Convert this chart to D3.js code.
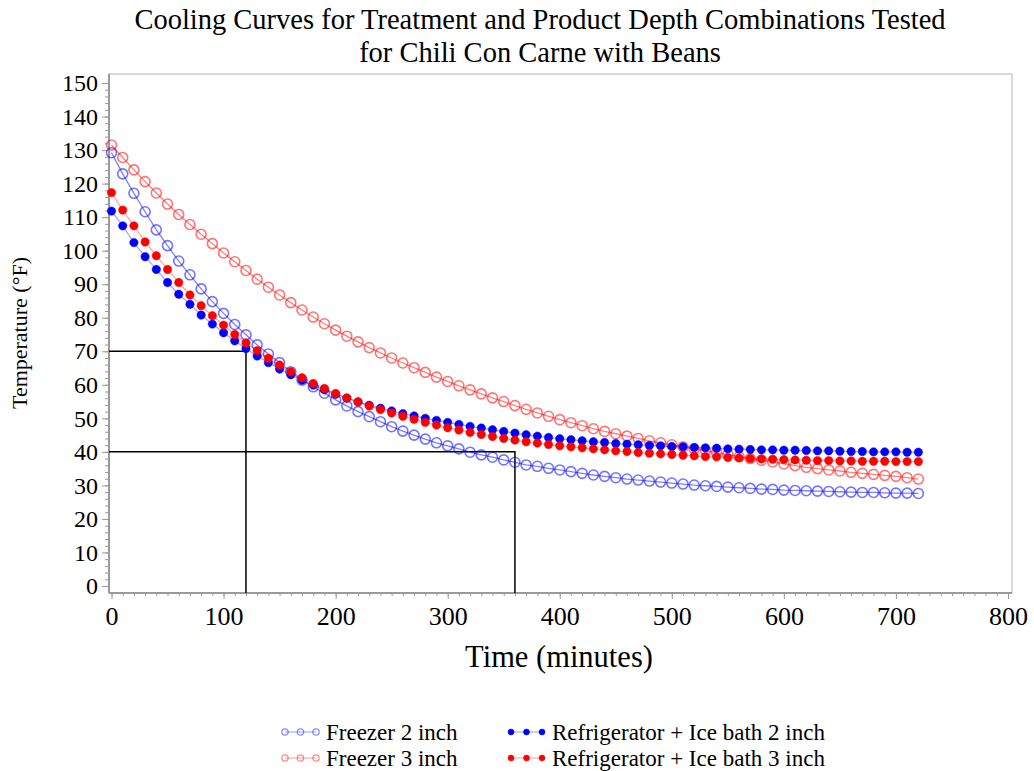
<!DOCTYPE html>
<html>
<head>
<meta charset="utf-8">
<script src="https://cdn.jsdelivr.net/npm/d3@7"></script>
<style>
  body { margin: 0; background: #fff; }
  text { font-family: "Liberation Serif", "Times New Roman", serif; fill: #000; }
</style>
</head>
<body>
<script>
// sampling times (minutes)
var times = [0,10,20,30,40,50,60,70,80,90,100,110,120,130,140,150,160,170,180,190,
  200,210,220,230,240,250,260,270,280,290,300,310,320,330,340,350,360,370,380,390,
  400,410,420,430,440,450,460,470,480,490,500,510,520,530,540,550,560,570,580,590,
  600,610,620,630,640,650,660,670,680,690,700,710,720];

// temperatures (°F)
var freezer2 = [129.2,122.9,117.1,111.6,106.2,101.5,96.9,92.8,88.6,84.8,81.3,78.0,74.9,71.9,69.2,66.6,63.9,61.4,59.4,57.5,
  55.5,53.7,52.0,50.5,49.0,47.5,46.2,45.0,43.8,42.7,41.8,40.9,39.9,39.1,38.4,37.6,36.9,36.1,35.7,35.1,
  34.6,34.1,33.6,33.1,32.7,32.3,31.9,31.6,31.3,31.0,30.7,30.4,30.1,29.9,29.7,29.5,29.3,29.1,28.9,28.8,
  28.6,28.5,28.4,28.3,28.2,28.1,28.0,27.9,27.9,27.8,27.7,27.7,27.6];
var freezer3 = [131.5,127.8,124.1,120.6,117.2,113.9,110.8,107.8,104.9,102.1,99.3,96.7,94.1,91.5,89.1,86.8,84.5,82.3,80.2,78.2,
  76.3,74.5,72.8,71.1,69.5,68.0,66.5,65.1,63.7,62.3,61.0,59.7,58.5,57.3,56.1,55.0,53.8,52.7,51.6,50.6,
  49.6,48.7,47.8,46.9,46.1,45.4,44.7,44.0,43.3,42.7,42.1,41.5,40.9,40.3,39.8,39.2,38.6,38.0,37.5,37.0,
  36.4,35.9,35.4,35.0,34.6,34.3,33.9,33.6,33.3,33.0,32.7,32.3,31.9];
var fridge2 = [111.8,107.4,102.4,98.2,94.4,90.5,87.0,84.0,80.8,78.1,75.5,73.1,70.8,68.6,66.6,64.7,63.0,61.4,59.9,58.5,
  57.2,56.0,54.9,53.9,53.0,52.2,51.4,50.7,50.0,49.4,48.8,48.2,47.6,47.1,46.6,46.1,45.6,45.1,44.7,44.3,
  43.9,43.6,43.3,43.0,42.8,42.5,42.3,42.1,41.9,41.8,41.6,41.5,41.3,41.2,41.1,40.9,40.8,40.7,40.6,40.6,
  40.5,40.5,40.4,40.3,40.3,40.2,40.1,40.1,40.0,40.0,40.0,39.9,39.9];
var fridge3 = [117.3,112.1,107.4,102.6,98.5,94.4,90.5,86.8,83.6,80.6,77.8,75.0,72.5,70.2,67.9,65.9,63.9,62.1,60.4,58.9,
  57.4,56.1,54.9,53.7,52.6,51.6,50.6,49.7,48.8,48.0,47.2,46.5,45.8,45.2,44.6,44.0,43.5,43.0,42.6,42.2,
  41.8,41.5,41.2,40.9,40.6,40.3,40.1,39.8,39.6,39.4,39.2,39.0,38.8,38.6,38.5,38.3,38.2,38.0,37.9,37.8,
  37.7,37.6,37.5,37.4,37.4,37.3,37.3,37.2,37.2,37.2,37.1,37.1,37.1];

var seriesNames = ["Freezer 2 inch", "Freezer 3 inch", "Refrigerator + Ice bath 2 inch", "Refrigerator + Ice bath 3 inch"];

// critical cooling points: [time, temperature]
var checkpoints = [[120, 70], [360, 40]];

var xTicks = [0,100,200,300,400,500,600,700,800];
var yTicks = [0,10,20,30,40,50,60,70,80,90,100,110,120,130,140,150];

var width = 1034, height = 771;
var box = {left: 109, top: 74, right: 1012, bottom: 593};

var svg = d3.select("body").append("svg")
    .attr("width", width)
    .attr("height", height);

var x = d3.scaleLinear().domain([0, 800]).range([111.5, 1008]);
var y = d3.scaleLinear().domain([0, 150]).range([586, 83]);

// title
svg.append("text")
    .attr("x", 540).attr("y", 29)
    .attr("text-anchor", "middle")
    .style("font-size", "28.5px")
    .text("Cooling Curves for Treatment and Product Depth Combinations Tested");
svg.append("text")
    .attr("x", 540).attr("y", 62)
    .attr("text-anchor", "middle")
    .style("font-size", "28.5px")
    .text("for Chili Con Carne with Beans");

// frame
svg.append("rect")
    .attr("x", box.left).attr("y", box.top)
    .attr("width", box.right - box.left).attr("height", box.bottom - box.top)
    .attr("fill", "none")
    .attr("stroke", "#b4b4b4")
    .attr("stroke-width", 1);

// axes (major + minor ticks)
function styleAxis(g) {
    g.select(".domain").remove();
    g.selectAll(".tick line").attr("stroke", "#9a9a9a");
}

svg.append("g")
    .attr("transform", "translate(" + box.left + ",0)")
    .call(d3.axisLeft(y).tickValues(d3.range(0, 152, 2)).tickSize(4).tickFormat(""))
    .call(styleAxis);
svg.append("g")
    .attr("transform", "translate(" + box.left + ",0)")
    .call(d3.axisLeft(y).tickValues(yTicks).tickSize(7).tickPadding(4))
    .call(styleAxis)
    .selectAll("text")
    .style("font-size", "24px");

svg.append("g")
    .attr("transform", "translate(0," + box.bottom + ")")
    .call(d3.axisBottom(x).tickValues(d3.range(0, 801, 10)).tickSize(3).tickFormat(""))
    .call(styleAxis);
svg.append("g")
    .attr("transform", "translate(0," + box.bottom + ")")
    .call(d3.axisBottom(x).tickValues(xTicks).tickSize(6).tickPadding(8))
    .call(styleAxis)
    .selectAll("text")
    .style("font-size", "26px");

// axis lines drawn a bit heavier
svg.append("line")
    .attr("x1", box.left).attr("x2", box.left)
    .attr("y1", box.top).attr("y2", box.bottom)
    .attr("stroke", "#9a9a9a").attr("stroke-width", 2);
svg.append("line")
    .attr("x1", box.left).attr("x2", box.right)
    .attr("y1", box.bottom).attr("y2", box.bottom)
    .attr("stroke", "#9a9a9a").attr("stroke-width", 2);

// axis labels
svg.append("text")
    .attr("transform", "translate(27,333) rotate(-90)")
    .attr("text-anchor", "middle")
    .style("font-size", "22px")
    .text("Temperature (°F)");
svg.append("text")
    .attr("x", 559).attr("y", 667)
    .attr("text-anchor", "middle")
    .style("font-size", "30.5px")
    .text("Time (minutes)");

// reference lines
svg.append("g").selectAll("path")
    .data(checkpoints)
    .enter().append("path")
    .attr("d", function (d) {
        return "M" + box.left + "," + y(d[1]) + "H" + x(d[0]) + "V" + box.bottom;
    })
    .attr("fill", "none")
    .attr("stroke", "#000")
    .attr("stroke-width", 1.5);

// series
var series = [
    {name: seriesNames[0], values: freezer2, color: "#0000ff", open: true},
    {name: seriesNames[1], values: freezer3, color: "#ff0000", open: true},
    {name: seriesNames[2], values: fridge2, color: "#0000ff", open: false},
    {name: seriesNames[3], values: fridge3, color: "#ff0000", open: false}
];

var line = d3.line()
    .x(function (d, i) { return x(times[i]); })
    .y(function (d) { return y(d); });

var plot = svg.append("g");
series.forEach(function (s) {
    var g = plot.append("g");
    g.append("path")
        .attr("d", line(s.values))
        .attr("fill", "none")
        .attr("stroke", s.color)
        .attr("stroke-opacity", s.open ? 0.5 : 0.35)
        .attr("stroke-width", 1.3);
    g.selectAll("circle")
        .data(s.values)
        .enter().append("circle")
        .attr("cx", function (d, i) { return x(times[i]); })
        .attr("cy", function (d) { return y(d); })
        .attr("r", s.open ? 5 : 4.2)
        .attr("fill", s.open ? "none" : s.color)
        .attr("stroke", s.color)
        .attr("stroke-opacity", s.open ? 0.55 : 1)
        .attr("stroke-width", s.open ? 1.6 : 0.5);
});

// legend
var legendPos = [[285, 732], [285, 758], [511, 732], [511, 758]];
var legend = svg.append("g").selectAll("g")
    .data(series)
    .enter().append("g")
    .attr("transform", function (d, i) { return "translate(" + legendPos[i][0] + "," + legendPos[i][1] + ")"; });

legend.append("line")
    .attr("x1", 0).attr("x2", 31)
    .attr("stroke", function (d) { return d.color; })
    .attr("stroke-opacity", 0.4)
    .attr("stroke-width", 1);
legend.each(function (d) {
    d3.select(this).selectAll("circle")
        .data([0, 15.5, 31])
        .enter().append("circle")
        .attr("cx", function (c) { return c; })
        .attr("r", d.open ? 3.2 : 3)
        .attr("fill", d.open ? "none" : d.color)
        .attr("stroke", d.color)
        .attr("stroke-opacity", d.open ? 0.45 : 1)
        .attr("stroke-width", d.open ? 1.2 : 0.5);
});
legend.append("text")
    .attr("x", 41).attr("y", 8)
    .style("font-size", "23px")
    .text(function (d) { return d.name; });
</script>
</body>
</html>
